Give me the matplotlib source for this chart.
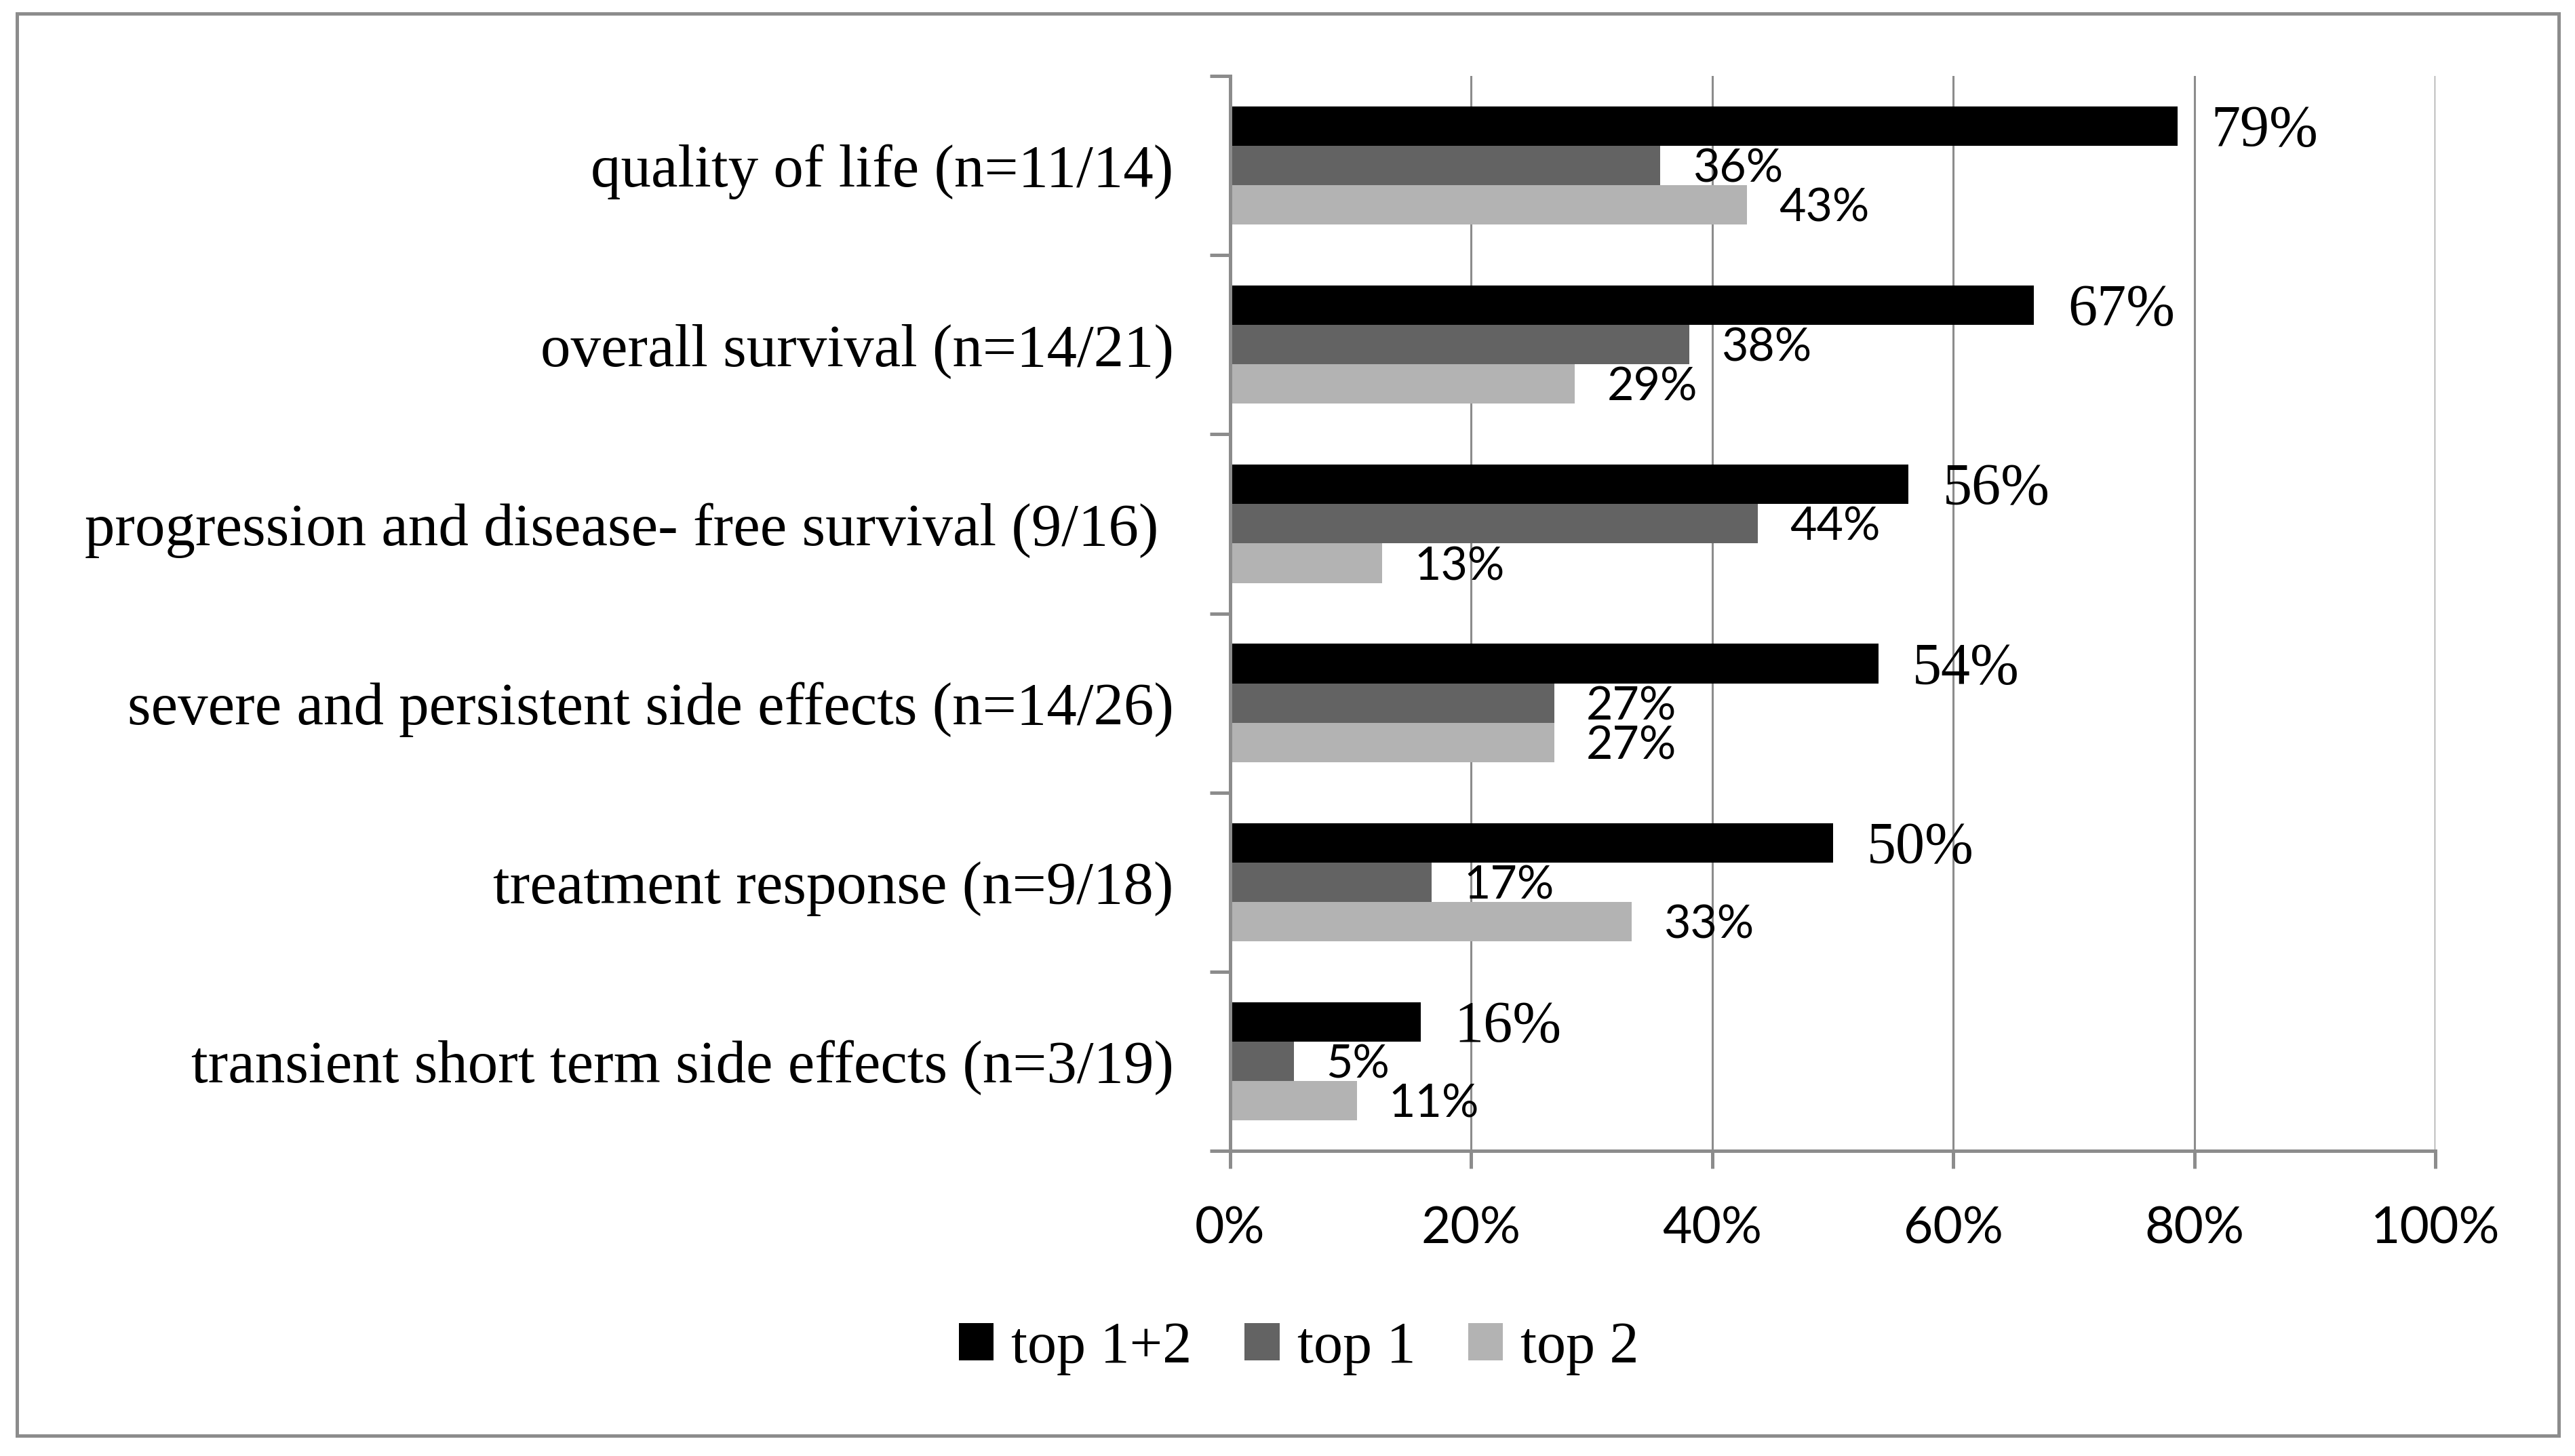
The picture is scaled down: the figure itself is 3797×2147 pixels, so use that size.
import matplotlib

matplotlib.use("Agg")

import matplotlib.pyplot as plt
import numpy as np
from matplotlib.patches import Patch, Rectangle
from matplotlib.ticker import FixedLocator, PercentFormatter

categories = [
    "quality of life (n=11/14)",
    "overall survival (n=14/21)",
    "progression and disease- free survival (9/16) ",
    "severe and persistent side effects (n=14/26)",
    "treatment response (n=9/18)",
    "transient short term side effects (n=3/19)",
]
series_names = ["top 1+2", "top 1", "top 2"]
top12 = [78.6, 66.7, 56.3, 53.8, 50.0, 15.8]
top1 = [35.7, 38.1, 43.8, 26.9, 16.7, 5.3]
top2 = [42.9, 28.6, 12.6, 26.9, 33.3, 10.5]
x_ticks = [0, 20, 40, 60, 80, 100]

colors = ["#000000", "#636363", "#b3b3b3"]
grey = "#8c8c8c"
serif = "Liberation Serif"
sans = "Lato"

W, H = 3797, 2147
DPI = 100

fig = plt.figure(figsize=(W / DPI, H / DPI), dpi=DPI)
ax = fig.add_axes([1814 / W, 1 - 1697 / H, (3591 - 1814) / W, (1697 - 112) / H])

y = np.arange(len(categories))
bar_h = 0.22
all_series = [top12, top1, top2]
offsets = [-bar_h, 0, bar_h]

for values, off, color, name in zip(all_series, offsets, colors, series_names):
    bars = ax.barh(y + off, values, height=bar_h, color=color, label=name, zorder=3)
    big = name == "top 1+2"
    for bar, v in zip(bars, values):
        ax.annotate(
            f"{int(v + 0.5)}%",
            xy=(bar.get_width(), bar.get_y() + bar.get_height() / 2),
            xytext=(36 if big else 34, -6 if big else -4),
            textcoords="offset points",
            ha="left",
            va="center",
            fontsize=62 if big else 49,
            family=serif if big else sans,
            zorder=4,
        )

ax.set_xlim(0, 100)
ax.set_ylim(len(categories) - 0.5, -0.5)

ax.set_xticks(x_ticks)
ax.xaxis.set_major_formatter(PercentFormatter(decimals=0))
ax.tick_params(axis="x", direction="out", length=19, width=3.6, color=grey,
               pad=39, labelsize=54)
for lab in ax.get_xticklabels():
    lab.set_family(sans)

ax.set_yticks(y)
ax.set_yticklabels(categories, family=serif, fontsize=64)
ax.tick_params(axis="y", which="major", length=0, pad=60)
ax.yaxis.set_minor_locator(FixedLocator(np.arange(len(categories) + 1) - 0.5))
ax.tick_params(axis="y", which="minor", direction="out", length=21.6, width=3.6,
               color=grey)

ax.grid(axis="x", color=grey, linewidth=2.2, zorder=0)
ax.set_axisbelow(True)
for side in ["top", "right"]:
    ax.spines[side].set_visible(False)
for side in ["left", "bottom"]:
    ax.spines[side].set_color(grey)
    ax.spines[side].set_linewidth(3.6)
    ax.spines[side].set_zorder(5)

handles = [Patch(facecolor=c, edgecolor="none") for c in colors]
fig.legend(
    handles,
    series_names,
    loc="center",
    bbox_to_anchor=(0.5044, 0.074),
    ncol=3,
    frameon=False,
    prop={"family": serif, "size": 62},
    handlelength=0.6,
    handleheight=0.6,
    handletextpad=0.3,
    columnspacing=0.9,
)

fig.add_artist(Rectangle((25 / W, 1 - 2117 / H), (3773 - 25) / W, (2117 - 20) / H,
                         transform=fig.transFigure, fill=False,
                         edgecolor=grey, linewidth=3.6))

fig.savefig("out.png", dpi=DPI, facecolor="white")
